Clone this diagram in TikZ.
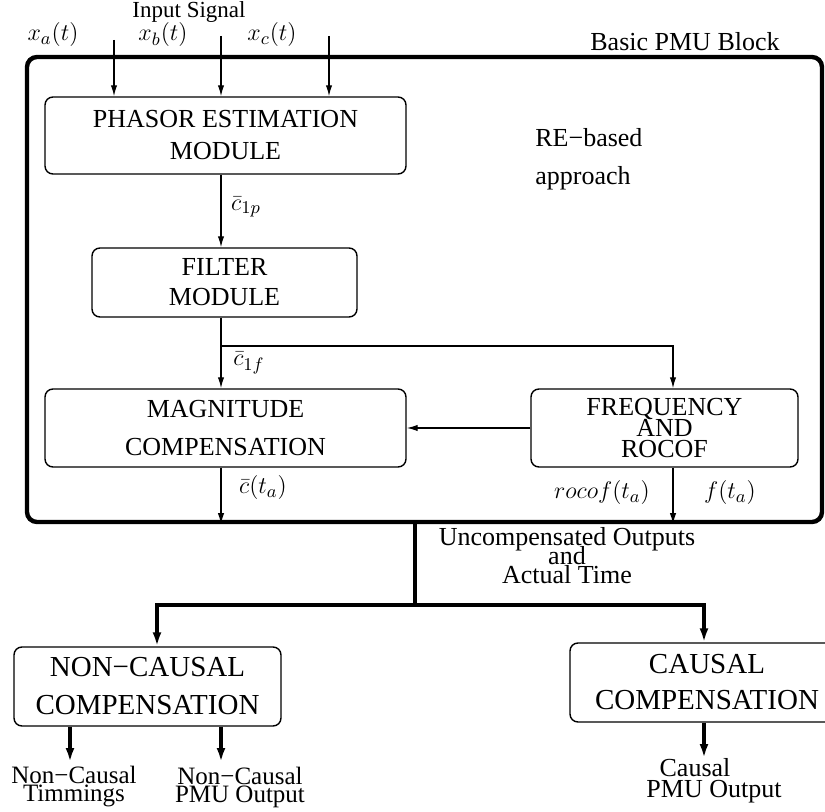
\documentclass[tikz,border=0pt]{standalone}
\usepackage{fontspec}
\setmainfont{Liberation Serif}
\usetikzlibrary{arrows.meta}
% fixed baseline spacing, even for tightly set lines
\newcommand{\tightlines}{\lineskiplimit=-50pt\lineskip=0pt\relax}
\begin{document}
\begin{tikzpicture}[x=0.5pt,y=-0.5pt,
  blk/.style={draw,rounded corners=4pt,line width=0.7pt,align=center,inner sep=0pt},
  thinarrow/.style={line width=0.7pt,-{Latex[length=5.5pt,width=3.2pt]}},
  thickarrow/.style={line width=2pt,-{Latex[length=7pt,width=4.5pt]}},
  thickline/.style={line width=2pt},
  lbl/.style={inner sep=0pt,align=center},
  mathlbl/.style={inner sep=0pt,font=\fontsize{13}{15}\selectfont},
]
\useasboundingbox (0,0) rectangle (825,812);

% outer PMU frame
\node[draw,line width=2.2pt,rounded corners=5pt,minimum width=397.5pt,minimum height=232.5pt,inner sep=0pt]
  (pmu) at (424.5,289.5) {};
\node[lbl,font=\fontsize{13}{15}\selectfont] (title) at (685,42) {Basic PMU Block};

% blocks inside the frame
\node[blk,minimum width=180.5pt,minimum height=38.5pt,font=\fontsize{13}{16}\selectfont]
  (pe) at (225.5,135.5) {PHASOR ESTIMATION\\MODULE};
\node[blk,minimum width=132.5pt,minimum height=34.5pt,font=\fontsize{13}{15}\selectfont]
  (fl) at (224.5,282.5) {FILTER\\MODULE};
\node[blk,minimum width=180.5pt,minimum height=39pt,font=\fontsize{13}{19}\selectfont]
  (mag) at (225.5,428) {MAGNITUDE\\COMPENSATION};
\node[blk,minimum width=133.5pt,minimum height=39pt,font=\fontsize{13}{10.5}\selectfont\tightlines]
  (fr) at (664.5,428) {FREQUENCY\\AND\\ROCOF};
\node[lbl,align=left,anchor=west,font=\fontsize{13}{19}\selectfont] (re) at (535,159) {RE−based\\approach};

% blocks below the frame
\node[blk,minimum width=133.5pt,minimum height=39.5pt,font=\fontsize{14.5}{19}\selectfont]
  (nc) at (147.5,686.5) {NON−CAUSAL\\COMPENSATION};
\node[blk,minimum width=137pt,minimum height=39.5pt,font=\fontsize{14.5}{18}\selectfont]
  (cs) at (707,682.5) {CAUSAL\\COMPENSATION};

% input signals
\node[lbl,font=\fontsize{11.5}{13}\selectfont] (insig) at (189,12) {Input Signal};
\node[mathlbl] (xa) at (53,35) {$x_a(t)$};
\node[mathlbl] (xb) at (163,35) {$x_b(t)$};
\node[mathlbl] (xc) at (272,35) {$x_c(t)$};
\coordinate (ia) at (114,40);
\coordinate (ib) at (221,36);
\coordinate (ic) at (329,36);
\draw[thinarrow] (ia) -- (ia |- pe.north);
\draw[thinarrow] (ib) -- (ib |- pe.north);
\draw[thinarrow] (ic) -- (ic |- pe.north);

% main signal path
\coordinate (spine) at (221,0);
\coordinate (fx) at (673,0);
\coordinate (branch) at (221,346);
\draw[thinarrow] (pe.south -| spine) -- (fl.north -| spine);
\draw[thinarrow] (fl.south -| spine) -- (mag.north -| spine);
\draw[thinarrow] (branch) -| (fr.north -| fx);
\draw[thinarrow] (fr.west) -- (mag.east);
\draw[thinarrow] (mag.south -| spine) -- (pmu.south -| spine);
\draw[thinarrow] (fr.south -| fx) -- (pmu.south -| fx);

\node[mathlbl] (c1p) at (246,207) {$\bar{c}_{1p}$};
\node[mathlbl] (c1f) at (249,363) {$\bar{c}_{1f}$};
\node[mathlbl] (cta) at (263,488) {$\bar{c}(t_a)$};
\node[mathlbl] (rocof) at (602,493) {$rocof(t_a)$};
\node[mathlbl] (fta) at (730,493) {$f(t_a)$};

% distribution to the compensation blocks
\coordinate (trunk) at (415,605);
\coordinate (ncx) at (157,0);
\coordinate (csx) at (704,0);
\draw[thickline] (pmu.south -| trunk) -- (trunk);
\draw[thickarrow] (trunk) -| (nc.north -| ncx);
\draw[thickarrow] (trunk) -| (cs.north -| csx);
\node[lbl,font=\fontsize{13}{9.5}\selectfont\tightlines] (unc) at (567,556)
  {Uncompensated Outputs\\and\\Actual Time};

% outputs
\coordinate (o1) at (70,762);
\coordinate (o2) at (221,762);
\coordinate (o3) at (704,758);
\draw[thickarrow] (nc.south -| o1) -- (o1);
\draw[thickarrow] (nc.south -| o2) -- (o2);
\draw[thickarrow] (cs.south -| o3) -- (o3);
\node[lbl,font=\fontsize{12.5}{9}\selectfont\tightlines] (nct) at (74,787) {Non−Causal\\Timmings};
\node[lbl,font=\fontsize{12.5}{9}\selectfont\tightlines] (ncp) at (240,787) {Non−Causal\\PMU Output};
\node[lbl,font=\fontsize{13}{10.5}\selectfont\tightlines] (cp) at (714,781) {Causal\hspace*{19pt}\\PMU Output};
\end{tikzpicture}
\end{document}
